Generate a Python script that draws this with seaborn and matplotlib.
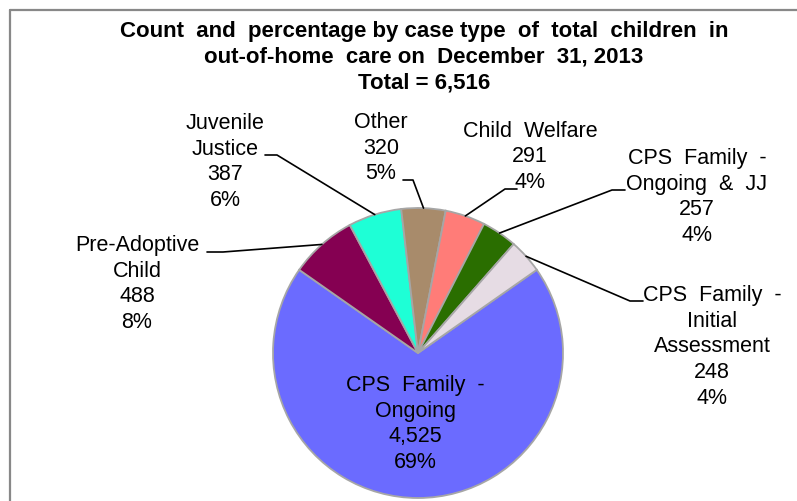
import matplotlib
matplotlib.use('Agg')
import matplotlib.pyplot as plt
import seaborn as sns
import numpy as np
from matplotlib.lines import Line2D

sns.set_style('white')
plt.rcParams['font.family'] = ['Liberation Sans', 'DejaVu Sans']
plt.rcParams['text.color'] = 'black'

# data
case_types = ['CPS  Family  -\nOngoing', 'Pre-Adoptive\nChild', 'Juvenile\nJustice', 'Other',
              'Child  Welfare', 'CPS  Family  -\nOngoing  &  JJ', 'CPS  Family  -\nInitial\nAssessment']
counts = [4525, 488, 387, 320, 291, 257, 248]
pct_shown = [69, 8, 6, 5, 4, 4, 4]   # as printed (excel rounds to sum 100)
slice_colors = ['#6b6bff', '#850052', '#1effd6', '#a88b6b', '#ff7c78', '#2a6e00', '#e6dce4']

W, H = 797, 501
cx, cy, R = 418, 353, 145   # pie centre / radius in pixels

# label centres and leader elbows in pixel coords (from top-left)
label_pos = [(415, 424), (137, 284), (225, 162), (381, 148), (530, 157), (697, 197), (712, 347)]
elbow = [None, (223, 252), (277, 155), (413, 180), (505, 189), (612, 190), (630, 301)]
elbow_end = [None, (207, 252), (265, 155), (403, 180), (517, 189), (625, 190), (643, 301)]


def to_data(p):
    return ((p[0] - cx) / R, (cy - p[1]) / R)


fig = plt.figure(figsize=(W / 100, H / 100), dpi=100)
ax = fig.add_axes([(cx - R) / W, (H - cy - R) / H, 2 * R / W, 2 * R / H])

wedges, _ = ax.pie(counts, colors=sns.color_palette(slice_colors), startangle=35,
                   counterclock=False, radius=1,
                   wedgeprops=dict(edgecolor='#a6a6a6', linewidth=1.3))
ax.set_xlim(-1, 1)
ax.set_ylim(-1, 1)
ax.axis('off')

for i, w in enumerate(wedges):
    txt = f'{case_types[i]}\n{counts[i]:,}\n{pct_shown[i]}%'
    lx, ly = to_data(label_pos[i])
    ax.text(lx, ly, txt, ha='center', va='center', fontsize=15.5,
            linespacing=1.3, color='black', clip_on=False)
    if elbow[i] is None:
        continue
    mid = np.deg2rad((w.theta1 + w.theta2) / 2)
    ex, ey = np.cos(mid), np.sin(mid)
    bx, by = to_data(elbow[i])
    tx, ty = to_data(elbow_end[i])
    ax.add_line(Line2D([ex, bx, tx], [ey, by, ty], color='black', lw=1.2, clip_on=False))

fig.text(424 / W, 1 - 57 / H,
         'Count  and  percentage by case type  of  total  children  in\n'
         'out-of-home  care on  December  31, 2013\nTotal = 6,516',
         ha='center', va='center', fontsize=16, fontweight='bold', linespacing=1.3,
         color='black')

# chart area frame (clipped on right/bottom in the source)
fig.add_artist(Line2D([9.5 / W, 9.5 / W], [0, 1 - 9.5 / H], color='#888888', lw=1.6))
fig.add_artist(Line2D([9.5 / W, 1], [1 - 9.5 / H, 1 - 9.5 / H], color='#888888', lw=1.6))

fig.savefig('out.png', dpi=100, facecolor='white')
